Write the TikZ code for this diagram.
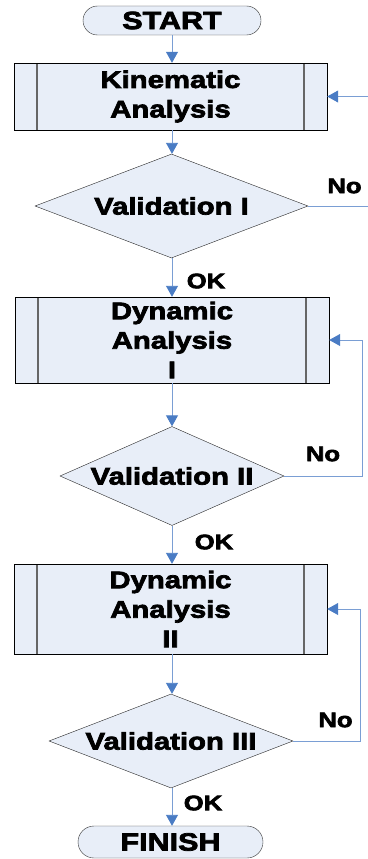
\documentclass[tikz,border=0pt]{standalone}
\usepackage{fontspec}
\setmainfont{Liberation Sans}[FakeStretch=1.22, BoldFeatures={FakeBold=3}]
\usetikzlibrary{arrows.meta,shapes.geometric,shapes.misc}
\definecolor{boxfill}{HTML}{E8EEF8}
\definecolor{tipblue}{HTML}{4A7CC4}
\definecolor{lineblue}{HTML}{7A9ED4}

\begin{document}
\begin{tikzpicture}[x=1pt, y=-1pt,
	every node/.style={font=\fontsize{24}{29.5}\selectfont\bfseries},
	terminal/.style={draw=black!80, fill=boxfill, rounded rectangle, inner sep=0pt, font=\fontsize{25}{29.5}\selectfont\bfseries},
	process/.style={draw=black, fill=boxfill, rectangle, align=center, inner sep=0pt, minimum width=313pt,
		path picture={\draw[black!60, line width=1.4pt]
			([xshift=23pt]path picture bounding box.north west) -- ([xshift=23pt]path picture bounding box.south west)
			([xshift=-23pt]path picture bounding box.north east) -- ([xshift=-23pt]path picture bounding box.south east);}},
	decision/.style={draw=black!85, fill=boxfill, diamond, inner sep=0pt},
	flow/.style={draw=lineblue, line width=0.9pt, -{Triangle[length=11pt, width=12pt, color=tipblue, fill=tipblue]}},
	lbl/.style={font=\fontsize{21}{24}\selectfont\bfseries}]
			%%%%% START %%%%%
			
			\useasboundingbox (0, 0) rectangle (367, 859);
			
			\node[terminal, minimum width=178pt, minimum height=29pt] (start) at (172, 20.5) {START};
			\node[process, minimum height=67pt] (kin) at (170.5, 96.5) {Kinematic\\Analysis};
			\node[decision, minimum width=273pt, minimum height=104pt, aspect=2.6] (val1) at (171.5, 206) {Validation I};
			
			\node[process, minimum width=314pt, minimum height=86pt] (dyn1) at (172, 340) {Dynamic\\Analysis\\I};
			\node[decision, minimum width=224pt, minimum height=99pt, aspect=2.26] (val2) at (172, 476) {Validation II};
			
			\node[process, minimum height=90pt] (dyn2) at (170.5, 609) {Dynamic\\Analysis\\II};
			\node[decision, minimum width=244pt, minimum height=94pt, aspect=2.6] (val3) at (171, 741) {Validation III};
			
			\node[terminal, minimum width=185pt, minimum height=32pt] (finish) at (170.5, 842) {FINISH};
			
			\node[lbl] (ok1) at (206, 281) {OK};
			\node[lbl] (ok2) at (214, 542) {OK};
			\node[lbl] (ok3) at (203, 803) {OK};
			\node[lbl] (no1) at (344.5, 186) {No};
			\node[lbl] (no2) at (323, 454) {No};
			\node[lbl] (no3) at (335.5, 720) {No};
			
			\draw[flow] (start.south) -- (start.south |- kin.north);
			\draw[flow] (kin.south -| start.south) -- (val1.north -| start.south);
			\draw[flow] (val1.south -| start.south) -- (dyn1.north -| start.south);
			\draw[flow] (dyn1.south -| start.south) -- (val2.north -| start.south);
			\draw[flow] (val2.south -| start.south) -- (dyn2.north -| start.south);
			\draw[flow] (dyn2.south -| start.south) -- (val3.north -| start.south);
			\draw[flow] (val3.south -| start.south) -- (finish.north -| start.south);
			
			\coordinate (turn1) at (380, 206);
			\coordinate (turn2) at (362, 476);
			\coordinate (turn3) at (360, 741);
			\draw[flow] (val1.east) -- (turn1) |- (kin.east);
			\draw[flow] (val2.east) -- (turn2) |- (dyn1.east);
			\draw[flow] (val3.east) -- (turn3) |- (dyn2.east);
			
			%%%%% END %%%%%
		\end{tikzpicture}
\end{document}
